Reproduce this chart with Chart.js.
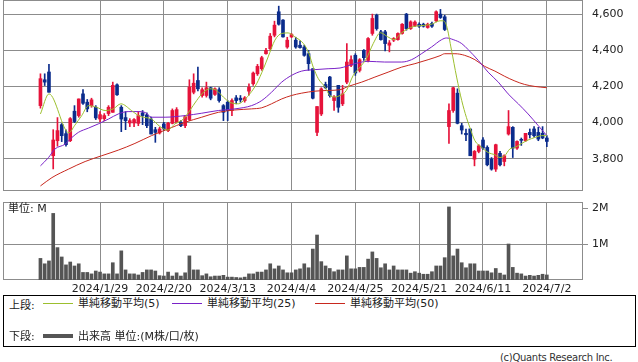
<!DOCTYPE html>
<html><head><meta charset="utf-8">
<script src="https://cdn.jsdelivr.net/npm/chart.js@4"></script>
<style>
html,body{margin:0;padding:0;background:#fff;}
body{width:638px;height:362px;overflow:hidden;position:relative;font-family:"DejaVu Sans","Noto Sans CJK JP",sans-serif;}
canvas{position:absolute;left:0;}
.t{position:absolute;font-size:11px;color:#222;white-space:nowrap;line-height:11px;font-family:"DejaVu Sans","Noto Sans CJK JP",sans-serif;}
.ln{position:absolute;height:1px;}
#legend{position:absolute;left:3px;top:295px;width:631px;height:50px;border:1px solid #000;}
</style></head><body>
<canvas id="c1" width="638" height="192" style="top:0;width:638px;height:192px"></canvas>
<canvas id="c2" width="638" height="100" style="top:195px;width:638px;height:100px"></canvas>
<div class="t" style="left:8px;top:203px;">単位: M</div>
<div id="legend"></div>
<div class="t" style="left:9px;top:300px;">上段:</div>
<div class="ln" style="left:43px;top:303px;width:30px;background:#9cbf2e"></div>
<div class="t" style="left:78px;top:298px;">単純移動平均(5)</div>
<div class="ln" style="left:172px;top:303px;width:30px;background:#7a22c8"></div>
<div class="t" style="left:207px;top:298px;">単純移動平均(25)</div>
<div class="ln" style="left:315px;top:303px;width:30px;background:#c8281e"></div>
<div class="t" style="left:350px;top:298px;">単純移動平均(50)</div>
<div class="t" style="left:9px;top:331px;">下段:</div>
<div class="ln" style="left:43px;top:334px;width:30px;height:4px;background:#555"></div>
<div class="t" style="left:78px;top:331px;">出来高 単位:(M株/口/枚)</div>
<div class="t" style="left:500px;top:352px;font-size:10px;letter-spacing:-0.3px;color:#333">(c)Quants Research Inc.</div>
<script>
// ---- data ----
const xTickIdx = [14, 29, 44, 59, 74, 89, 104, 119];
const xTickLabels = ['2024/1/29','2024/2/20','2024/3/13','2024/4/4','2024/4/25','2024/5/21','2024/6/11','2024/7/2'];
const priceTicks = [3800, 4000, 4200, 4400, 4600];
const volTicks = [1, 2];

const open  = [4094,4237,4280,3817,3900,3989,3939,3900,4063,4039,4159,4113,4094,4085,4020,4022,4050,4057,4209,4085,
 4028,3998,3998,3996,4054,4043,4020,3961,3943,3993,3956,3996,4002,4002,3983,4017,4168,4233,4150,4150,
 4193,4156,4182,4094,4113,4067,4137,4135,4122,4174,4215,4270,4298,4381,4409,4483,4613,4567,4418,4474,
 4456,4428,4418,4381,4298,3946,4048,4211,4252,4122,4206,4104,4224,4317,4372,4289,4400,4344,4493,4594,
 4502,4502,4428,4456,4459,4493,4600,4520,4537,4544,4544,4526,4548,4563,4600,4585,3978,4067,4163,3983,
 3941,3965,3798,3841,3904,3863,3798,3743,3830,3785,3937,3974,3859,3907,3900,3946,3965,3946,3941,3915];
const high  = [4270,4270,4322,3961,4028,3995,3960,4028,4094,4131,4183,4128,4135,4094,4061,4050,4094,4224,4215,4094,
 4061,4022,4022,4061,4067,4054,4030,3974,3974,4002,4002,4076,4083,4011,4039,4237,4270,4307,4193,4224,
 4196,4193,4193,4100,4122,4131,4150,4150,4144,4215,4280,4322,4367,4411,4493,4561,4644,4570,4472,4493,
 4472,4452,4428,4400,4298,4089,4193,4224,4256,4150,4206,4206,4437,4370,4381,4354,4404,4470,4600,4600,
 4511,4511,4454,4470,4496,4548,4604,4563,4563,4552,4550,4550,4556,4618,4626,4594,4104,4196,4187,3996,
 3965,3965,3846,3878,3918,3872,3807,3881,3841,3822,4067,3978,3900,3915,3941,3965,3978,3974,3978,3928];
const low   = [4080,4205,4168,3744,3870,3895,3870,3895,4000,4030,4100,4060,4085,4017,4006,4011,4039,4057,4150,3950,
 3961,3978,3978,3983,3989,3972,3937,3891,3937,3956,3950,3993,3998,3978,3972,4011,4159,4176,4141,4141,
 4126,4150,4113,4011,4011,4039,4104,4113,4113,4152,4206,4261,4289,4378,4400,4474,4539,4472,4411,4470,
 4411,4411,4367,4289,4131,3928,4039,4187,4141,4067,4057,4094,4215,4309,4261,4280,4344,4335,4483,4511,
 4456,4396,4391,4448,4456,4489,4511,4515,4530,4526,4528,4522,4526,4557,4576,4509,3885,4057,3993,3937,
 3900,3817,3761,3833,3852,3761,3737,3730,3761,3761,3931,3807,3852,3874,3896,3915,3919,3900,3911,3867];
const close = [4243,4224,4168,3904,3956,3928,3878,4022,4006,4131,4107,4076,4126,4026,4044,4039,4085,4206,4154,4020,
 4011,4011,4017,4039,4039,3983,3937,3946,3965,3965,3996,4067,4072,3983,4033,4196,4218,4187,4182,4193,
 4135,4187,4122,4057,4067,4122,4122,4126,4137,4196,4274,4311,4359,4400,4478,4539,4544,4474,4456,4487,
 4418,4415,4372,4326,4135,4089,4187,4193,4150,4141,4085,4159,4335,4348,4274,4348,4359,4465,4576,4520,
 4459,4437,4441,4465,4493,4544,4520,4557,4556,4533,4533,4544,4533,4613,4581,4515,4067,4193,3996,3959,
 3933,3817,3841,3872,3859,3767,3743,3878,3767,3817,3978,3859,3896,3902,3941,3933,3928,3909,3915,3896];
const volume = [0.60,0.45,0.53,1.85,0.90,0.64,0.42,0.50,0.39,0.45,
 0.21,0.21,0.17,0.25,0.22,0.17,0.17,0.48,0.17,0.81,
 0.28,0.17,0.17,0.14,0.21,0.28,0.28,0.25,0.12,0.11,
 0.22,0.11,0.20,0.11,0.20,0.67,0.28,0.28,0.12,0.17,
 0.09,0.11,0.11,0.13,0.08,0.08,0.07,0.06,0.08,0.17,
 0.17,0.22,0.22,0.28,0.45,0.31,0.39,0.28,0.20,0.20,
 0.28,0.31,0.45,0.34,0.86,1.25,0.51,0.39,0.32,0.23,
 0.28,0.28,0.67,0.31,0.31,0.35,0.35,0.58,0.78,0.60,
 0.34,0.45,0.28,0.39,0.28,0.28,0.28,0.19,0.23,0.19,
 0.16,0.16,0.23,0.39,0.39,0.62,2.03,0.67,0.86,0.48,
 0.34,0.45,0.45,0.25,0.25,0.25,0.20,0.32,0.19,0.14,
 1.00,0.35,0.19,0.17,0.11,0.13,0.11,0.13,0.16,0.14];

// moving averages: [candle index, price]
const ma5 = [[0,4048],[2,4159],[6.7,3944],[8,3983],[9.7,4039],[11.3,4094],[13.2,4085],[15.2,4067],[17.1,4076],[18.9,4104],
 [21.4,4067],[23,4039],[24.2,4030],[26.1,4020],[28.1,3978],[29.9,3959],[31.6,3993],[33.6,4020],[35.1,4067],[36.7,4122],
 [38.3,4168],[39.8,4187],[41.4,4178],[43,4141],[44.5,4113],[46.5,4104],[47.3,4113],[49.2,4159],[50.8,4215],[52.4,4298],
 [53.5,4363],[55.1,4456],[56.7,4493],[58.2,4496],[59.8,4474],[61.8,4437],[63.1,4382],[64.1,4307],[65.3,4243],[66.9,4196],
 [68,4150],[69.2,4142],[70.4,4150],[71.9,4178],[73.5,4261],[75.1,4307],[76.6,4354],[78.2,4437],[79.9,4497],[81.5,4476],
 [83.1,4459],[84.7,4493],[86.2,4517],[87.8,4532],[89.4,4536],[91.9,4544],[93.9,4563],[94.6,4563],[95.4,4539],[96.6,4400],
 [97.8,4252],[99,4122],[100.1,4029],[100.9,3974],[102.1,3900],[103.7,3863],[105.2,3835],[106.8,3822],[108,3807],[109.1,3817],
 [110.3,3854],[111.5,3863],[113.1,3885],[114.6,3904],[116.2,3918],[117.8,3928],[119,3928]];
const ma25 = [[0,3761],[1.9,3807],[3.4,3854],[5.8,3881],[7.4,3918],[8.9,3946],[11.3,3970],[13.6,3993],[16,4020],[18.3,4048],
 [20.6,4061],[23,4061],[24.6,4056],[26.1,4030],[29.3,4030],[34,4039],[37.9,4052],[41.8,4067],[45.7,4076],[49.6,4094],
 [52,4122],[54.3,4168],[56.7,4224],[59,4261],[61.4,4285],[64.5,4293],[67.6,4298],[70.4,4302],[73.9,4326],[77,4339],
 [80.9,4335],[84.9,4335],[87.2,4348],[89.6,4382],[91.9,4418],[94.3,4459],[95.4,4468],[97,4459],[99,4437],[100.5,4404],
 [102.9,4344],[105.2,4279],[107.6,4224],[109.9,4159],[112.3,4104],[114.6,4048],[117,3983],[119,3928]];
const ma50 = [[0,3650],[2.7,3696],[6.6,3743],[10.5,3785],[14.4,3817],[18.3,3848],[22.2,3885],[26.1,3928],[30,3965],[34,4002],
 [37.9,4030],[41.8,4057],[45.7,4070],[49.6,4076],[52,4082],[54.3,4104],[56.7,4131],[59,4150],[61.4,4163],[64.5,4174],
 [67.6,4178],[70.4,4182],[72.3,4200],[75.5,4224],[78.6,4252],[81.7,4279],[84.9,4307],[88,4326],[91.1,4348],[93.9,4370],
 [95,4381],[97.4,4381],[99.7,4372],[102.1,4348],[104.4,4311],[106.8,4285],[109.1,4256],[111.5,4230],[113.8,4211],[116.2,4200],
 [119,4193]];

// ---- styles ----
const RED = '#e6133a', BLUE = '#0b2c8c', GRID = '#8c8c8c';
const C5 = '#9cbf2e', C25 = '#7a22c8', C50 = '#c8281e';
const FONT = {family: '"DejaVu Sans", sans-serif', size: 11};
const XMIN = -8.8, XMAX = 127.5;

const frame = {id: 'frame', beforeDatasetsDraw(chart) {
  const {ctx, chartArea: a} = chart;
  ctx.save(); ctx.strokeStyle = GRID; ctx.lineWidth = 1;
  ctx.strokeRect(Math.round(a.left) + 0.5, Math.round(a.top) + 0.5, Math.round(a.right - a.left) - 1, Math.round(a.bottom - a.top) - 1);
  ctx.restore();
}};
const noPad = s => { s.paddingTop = 0; s.paddingBottom = 0; s.paddingLeft = 0; s.paddingRight = 0; };

const idx = open.map((_, i) => i);
const cCol = idx.map(i => close[i] >= open[i] ? RED : BLUE);
const pts = arr => arr.map(p => ({x: p[0], y: p[1]}));
const lineDs = (arr, col) => ({type: 'line', data: pts(arr), borderColor: col, borderWidth: 1, pointRadius: 0,
  cubicInterpolationMode: 'monotone', order: 0});

new Chart(document.getElementById('c1'), {
  type: 'bar',
  data: {datasets: [
    lineDs(ma5, C5), lineDs(ma25, C25), lineDs(ma50, C50),
    {type: 'bar', data: idx.map(i => ({x: i, y: [open[i], close[i]]})), backgroundColor: cCol,
     barThickness: 3, minBarLength: 1, grouped: false, order: 1},
    {type: 'bar', data: idx.map(i => ({x: i, y: [low[i], high[i]]})), backgroundColor: cCol,
     barThickness: 1, grouped: false, order: 2}
  ]},
  options: {
    responsive: false, animation: false, events: [],
    plugins: {legend: {display: false}, tooltip: {enabled: false}},
    layout: {padding: {left: 3, top: 0, right: 0, bottom: 1}},
    scales: {
      x: {type: 'linear', min: XMIN, max: XMAX, offset: false,
          afterBuildTicks: s => { s.ticks = xTickIdx.map(v => ({value: v})); },
          afterFit: s => { s.height = 0; noPad(s); },
          ticks: {display: false}, grid: {color: GRID, drawTicks: false, offset: false}, border: {display: false}},
      y: {position: 'right', min: 3622, max: 4678, beginAtZero: false,
          afterBuildTicks: s => { s.ticks = priceTicks.map(v => ({value: v})); },
          afterFit: s => { s.width = 55; noPad(s); },
          ticks: {font: FONT, color: '#222', padding: 4, callback: v => v.toLocaleString('en-US')},
          grid: {color: GRID, tickLength: 5, tickColor: 'rgba(0,0,0,0)'}, border: {display: false}}
    }
  },
  plugins: [frame]
});

new Chart(document.getElementById('c2'), {
  type: 'bar',
  data: {datasets: [
    {data: idx.map(i => ({x: i, y: volume[i]})), backgroundColor: '#555555', barThickness: 3}
  ]},
  options: {
    responsive: false, animation: false, events: [],
    plugins: {legend: {display: false}, tooltip: {enabled: false}},
    layout: {padding: {left: 3, top: 7, right: 0, bottom: 0}},
    scales: {
      x: {type: 'linear', min: XMIN, max: XMAX, offset: false,
          afterBuildTicks: s => { s.ticks = xTickIdx.map(v => ({value: v})); },
          afterFit: s => { s.height = 15; noPad(s); },
          ticks: {font: FONT, color: '#222', padding: 3, autoSkip: false, maxRotation: 0,
                  callback: (v, i) => xTickLabels[i]},
          grid: {color: GRID, drawTicks: false, offset: false}, border: {display: false}},
      y: {position: 'right', min: 0, max: 2.167,
          afterBuildTicks: s => { s.ticks = volTicks.map(v => ({value: v})); },
          afterFit: s => { s.width = 55; noPad(s); },
          ticks: {font: FONT, color: '#222', padding: 4, callback: v => v + 'M'},
          grid: {color: c => (c.tick && c.tick.value === 2) ? 'rgba(0,0,0,0)' : GRID, tickColor: GRID, tickLength: 5},
          border: {display: false}}
    }
  },
  plugins: [frame]
});
</script>
</body></html>
